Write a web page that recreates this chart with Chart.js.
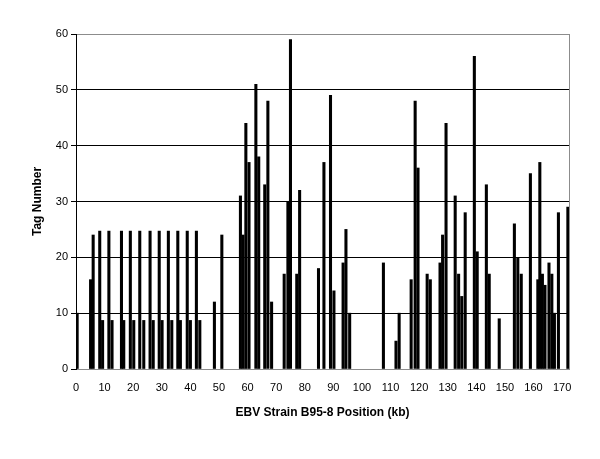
<!DOCTYPE html>
<html>
<head>
<meta charset="utf-8">
<script src="https://cdn.jsdelivr.net/npm/chart.js@4"></script>
<style>
html,body{margin:0;padding:0;background:#fff;}
#wrap{width:600px;height:459px;}
</style>
</head>
<body>
<div id="wrap"><canvas id="c" width="600" height="459"></canvas></div>
<script>
// EBV B95-8 position (kb) of each tag cluster
const positions = [
  0.4, 5.1, 6.0, 8.3, 9.3, 11.5, 12.6, 15.9, 16.7, 19.0, 20.2, 22.3, 23.7,
  25.9, 27.0, 29.1, 30.1, 32.3, 33.5, 35.6, 36.5, 38.9, 40.0, 42.1, 43.3,
  48.4, 51.0, 57.5, 58.4, 59.4, 60.5, 62.9, 63.9, 66.0, 67.1, 68.4,
  72.8, 74.1, 75.0, 77.2, 78.2,
  84.8, 86.7, 89.0, 90.2, 93.4, 94.4, 95.7,
  107.5, 111.9, 113.0, 117.2, 118.6, 119.6, 122.8, 123.9, 127.3, 128.2, 129.4,
  132.6, 133.8, 134.9, 136.1, 139.3, 140.3, 143.5, 144.5, 148.0,
  153.3, 154.5, 155.7, 158.9, 161.5, 162.2, 163.1, 164.0, 165.4, 166.4, 167.3, 168.7, 172.0
];
// Tag number at each position
const tags = [
  10, 16, 24, 24.7, 8.7, 24.7, 8.7, 24.7, 8.7, 24.7, 8.7, 24.7, 8.7,
  24.7, 8.7, 24.7, 8.7, 24.7, 8.7, 24.7, 8.7, 24.7, 8.7, 24.7, 8.7,
  12, 24, 31, 24, 44, 37, 51, 38, 33, 48, 12,
  17, 30, 59, 17, 32,
  18, 37, 49, 14, 19, 25, 10,
  19, 5, 10, 16, 48, 36, 17, 16, 19, 24, 44,
  31, 17, 13, 28, 56, 21, 33, 17, 9,
  26, 20, 17, 35, 16, 37, 17, 15, 19, 17, 10, 28, 29
];
const yTicks = [0, 10, 20, 30, 40, 50, 60];
const xTickStep = 10;
const xMax = 172.4;

const points = positions.map((p, i) => ({x: p, y: tags[i]}));

const borderPlugin = {
  id: 'plotBorder',
  afterDraw(chart) {
    const a = chart.chartArea, ctx = chart.ctx;
    ctx.save();
    ctx.strokeStyle = '#8c8c8c';
    ctx.lineWidth = 1;
    ctx.beginPath();
    ctx.moveTo(Math.round(a.right) + 0.5, a.top);
    ctx.lineTo(Math.round(a.right) + 0.5, a.bottom);
    ctx.stroke();
    ctx.restore();
  }
};

new Chart(document.getElementById('c'), {
  type: 'bar',
  data: {
    datasets: [{
      data: points,
      backgroundColor: '#000',
      borderWidth: 0,
      barThickness: 2.4
    }]
  },
  options: {
    responsive: false,
    animation: false,
    layout: {padding: {left: 30, top: 34, right: 31, bottom: 39}},
    plugins: {legend: {display: false}, tooltip: {enabled: false}},
    scales: {
      x: {
        type: 'linear',
        offset: false,
        min: 0,
        max: xMax,
        grid: {display: false, offset: false},
        border: {display: true, color: '#8c8c8c'},
        afterBuildTicks(scale) {
          const t = [];
          for (let v = 0; v <= 170; v += xTickStep) t.push({value: v});
          scale.ticks = t;
        },
        ticks: {
          color: '#000',
          font: {family: 'Liberation Sans', size: 11},
          padding: 4,
          maxRotation: 0,
          autoSkip: false
        },
        title: {
          display: true,
          text: 'EBV Strain B95-8 Position (kb)',
          color: '#000',
          font: {family: 'Liberation Sans', size: 12, weight: 'bold'},
          padding: 0
        },
        afterFit(scale) { scale.height = 51; }
      },
      y: {
        min: 0,
        max: 60,
        afterBuildTicks(scale) { scale.ticks = yTicks.map(v => ({value: v})); },
        grid: {
          color: ctx => (ctx.tick && (ctx.tick.value === 60 || ctx.tick.value === 0)) ? '#8c8c8c' : '#000',
          tickColor: '#000',
          tickLength: 5
        },
        border: {display: true, color: '#000'},
        ticks: {
          color: '#000',
          font: {family: 'Liberation Sans', size: 11},
          padding: 3
        },
        title: {
          display: true,
          text: 'Tag Number',
          color: '#000',
          font: {family: 'Liberation Sans', size: 12, weight: 'bold'},
          padding: 0
        },
        afterFit(scale) { scale.width = 46; }
      }
    }
  },
  plugins: [borderPlugin]
});
</script>
</body>
</html>
